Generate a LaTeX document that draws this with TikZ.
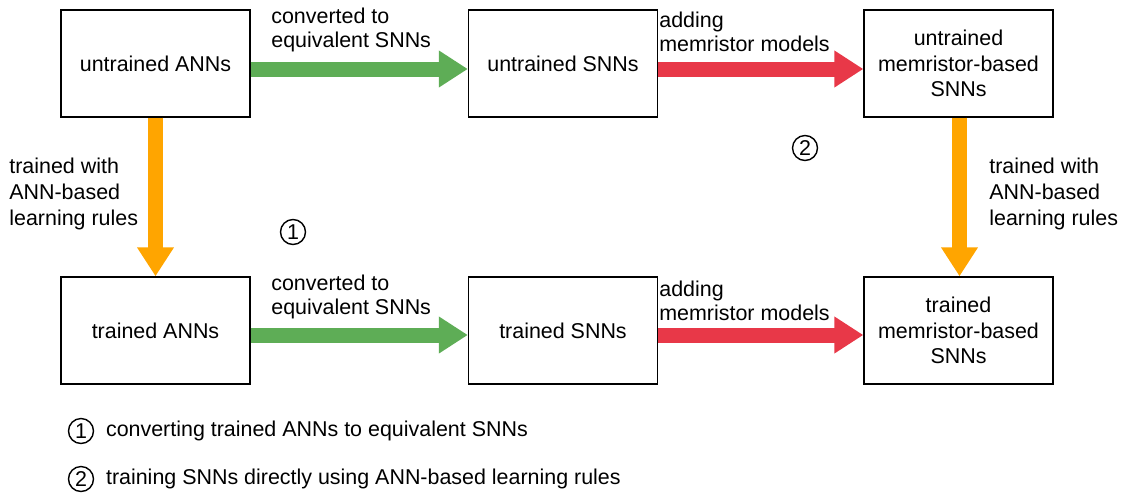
\documentclass[tikz,border=0pt]{standalone}
\usepackage{fontspec}
\setmainfont{Liberation Sans}
\usetikzlibrary{arrows.meta,positioning}

\definecolor{convgreen}{RGB}{94,173,86}
\definecolor{memred}{RGB}{232,56,72}
\definecolor{trainorange}{RGB}{255,165,0}

\tikzset{
	stagebox/.style={draw, line width=0.8pt, minimum width=3.78cm, minimum height=2.14cm, align=center, inner sep=2pt, font=\fontsize{12.2}{14.6}\selectfont},
	blockarrow/.style={line width=0.3cm, -{Triangle[length=0.58cm, width=0.7cm]}},
	lbl/.style={anchor=west, align=left, inner sep=0pt},
	sidelbl/.style={lbl, font=\fontsize{12.2}{14.8}\selectfont},
	numcircle/.style={draw, circle, line width=0.8pt, minimum size=0.5cm, inner sep=0pt}
}

\begin{document}
\begin{tikzpicture}[x=0.02cm, y=-0.02cm, font=\fontsize{12.2}{13.8}\selectfont]
	\useasboundingbox (0,0) rectangle (1124,494);

	%stage boxes
	\node[stagebox] (uann) at (155.5,63.5) {untrained ANNs};
	\node[stagebox] (usnn) at (563,63.5) {untrained SNNs};
	\node[stagebox] (umem) at (958.5,63.5) {untrained\\memristor-based\\SNNs};
	\node[stagebox] (tann) at (155.5,330.5) {trained ANNs};
	\node[stagebox] (tsnn) at (563,330.5) {trained SNNs};
	\node[stagebox] (tmem) at (958.5,330.5) {trained\\memristor-based\\SNNs};

	%horizontal arrows
	\draw[blockarrow, convgreen] ([yshift=-0.11cm]uann.east) -- ([yshift=-0.11cm]usnn.west);
	\draw[blockarrow, memred] ([yshift=-0.11cm]usnn.east) -- ([yshift=-0.11cm]umem.west);
	\draw[blockarrow, convgreen] ([yshift=-0.09cm]tann.east) -- ([yshift=-0.09cm]tsnn.west);
	\draw[blockarrow, memred] ([yshift=-0.09cm]tsnn.east) -- ([yshift=-0.09cm]tmem.west);

	%vertical arrows
	\draw[blockarrow, trainorange] (uann.south) -- (tann.north);
	\draw[blockarrow, trainorange] ([xshift=0.02cm]umem.south) -- ([xshift=0.02cm]tmem.north);

	%arrow labels
	\node[lbl] (conv1) at (271,30) {converted to\\equivalent SNNs};
	\node[lbl] (add1) at (659,32) {adding\\memristor models};
	\node[lbl] (conv2) at (271,297) {converted to\\equivalent SNNs};
	\node[lbl] (add2) at (659,301) {adding\\memristor models};
	\node[sidelbl] (trainl) at (9,194) {trained with\\ANN-based\\learning rules};
	\node[sidelbl] (trainr) at (989,194) {trained with\\ANN-based\\learning rules};

	%route markers
	\node[numcircle] (one) at (293,232) {1};
	\node[numcircle] (two) at (805,148) {2};

	%legend
	\node[numcircle] (leg1) at (81,431) {1};
	\node[lbl, right=0.23cm of leg1] (leg1txt) {converting trained ANNs to equivalent SNNs};
	\node[numcircle] (leg2) at (81,479) {2};
	\node[lbl, right=0.23cm of leg2] (leg2txt) {training SNNs directly using ANN-based learning rules};
\end{tikzpicture}
\end{document}
